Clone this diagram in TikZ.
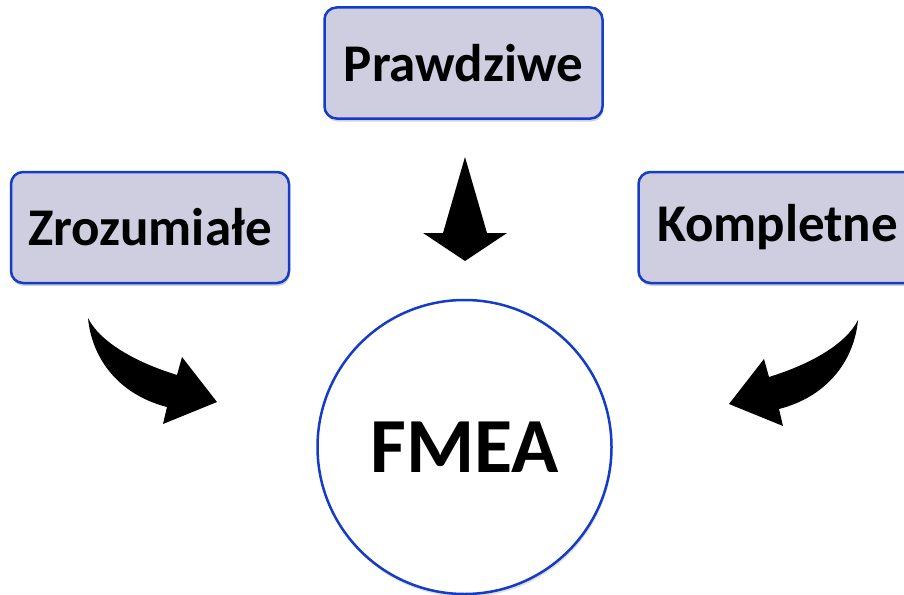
\documentclass[tikz,border=0pt]{standalone}
\usepackage{fontspec}
\setmainfont{Carlito}
\usetikzlibrary{shadows}
\definecolor{boxfill}{RGB}{206,206,224}
\definecolor{boxline}{RGB}{20,60,200}
\tikzset{
    label box/.style = {rectangle,rounded corners=12pt,draw=boxline,line width=2.5pt,fill=boxfill,
        minimum width=278pt,minimum height=111pt,inner sep=0pt,
        font=\fontsize{53}{62}\selectfont\bfseries,
        drop shadow={opacity=0.35,shadow xshift=1pt,shadow yshift=-3pt}},
    core/.style = {circle,draw=boxline,line width=2.5pt,fill=white,minimum size=294pt,inner sep=0pt,
        font=\fontsize{78}{90}\selectfont\bfseries,
        drop shadow={opacity=0.25,shadow xshift=1pt,shadow yshift=-3pt}},
    blockarrow/.style = {fill=black,draw=none}}

\begin{document}
\begin{tikzpicture}[x=1pt,y=-1pt]
        \useasboundingbox (0,0) rectangle (904,594);
        \path (463.5,63) node[label box] (P) {Prawdziwe}
        (150,227.5) node[label box] (Z) {Zrozumiałe}
        (777.5,227.5) node[label box] (K) {Kompletne}
        (464.5,447) node[core] (F) {FMEA};
        % straight arrow from the top box
        \fill[blockarrow] (465,157) -- (487,233) -- (507,233) -- (465,261)
            -- (423,233) -- (443,233) -- cycle;
        % bent arrows from the side boxes
        \fill[blockarrow] (88,318) .. controls (100,342) and (135,362) .. (177,375)
            -- (182,357) -- (217,402) -- (163,424) -- (167,407)
            .. controls (120,395) and (92,360) .. (88,318) -- cycle;
        \begin{scope}[xshift=946pt,yshift=-2pt,xscale=-1]
        \fill[blockarrow] (88,318) .. controls (100,342) and (135,362) .. (177,375)
            -- (182,357) -- (217,402) -- (163,424) -- (167,407)
            .. controls (120,395) and (92,360) .. (88,318) -- cycle;
        \end{scope}
\end{tikzpicture}
\end{document}
